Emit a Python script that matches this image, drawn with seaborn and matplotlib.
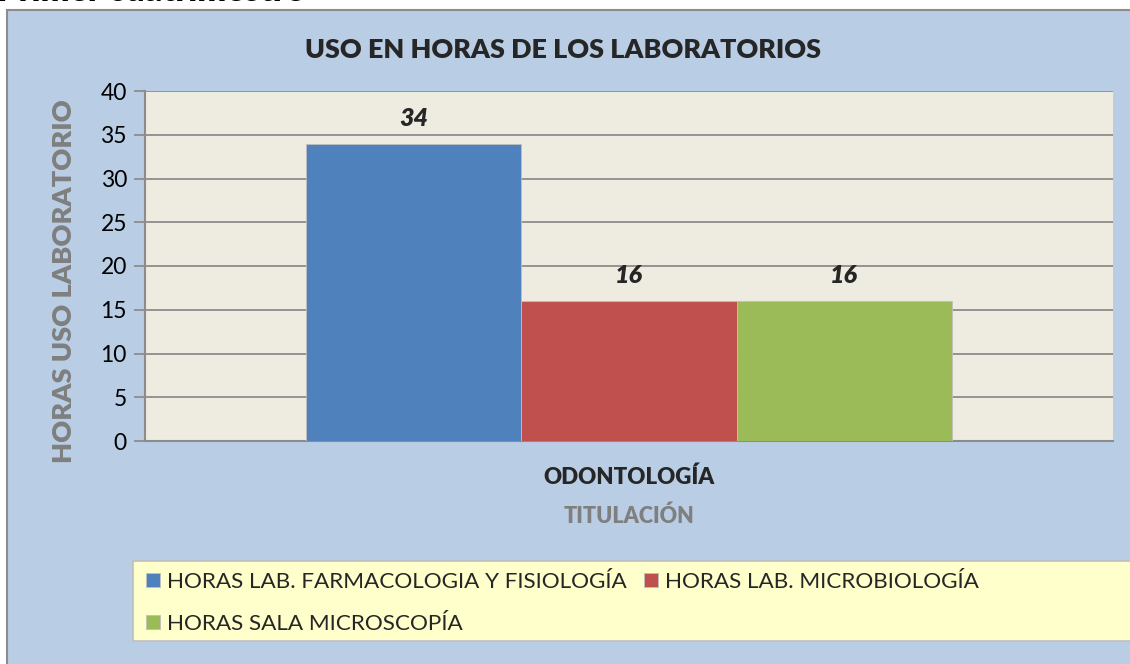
import numpy as np
import pandas as pd
import matplotlib
matplotlib.use("Agg")
import matplotlib.pyplot as plt
import seaborn as sns
from matplotlib.patches import Rectangle

# Datos del grafico (uso en horas de los laboratorios)
titulacion = ["ODONTOLOGÍA"]
series = ["HORAS LAB. FARMACOLOGIA Y FISIOLOGÍA", "HORAS LAB. MICROBIOLOGÍA", "HORAS SALA MICROSCOPÍA"]
horas = [34, 16, 16]
colores = ["#4F81BD", "#C0504D", "#9BBB59"]
yticks = [0, 5, 10, 15, 20, 25, 30, 35, 40]

df = pd.DataFrame({"titulacion": titulacion * len(series), "serie": series, "horas": horas})

sns.set_theme(style="white")
plt.rcParams["font.family"] = ["Lato", "DejaVu Sans"]
NEGRITA = "heavy"

W, H = 1130, 664
fig = plt.figure(figsize=(W / 100, H / 100), dpi=100)
fig.patch.set_facecolor("white")

# fondo azul del area del grafico
fig.add_artist(Rectangle((7 / W, -0.01), 1.0, 1 - 10 / H + 0.01, transform=fig.transFigure,
                         facecolor="#B9CDE5", edgecolor="#8C8C8C", lw=1.5, zorder=-10))
# titulo de la pagina (cortado arriba, como en el original)
fig.text(-3 / W, 1 - 1 / H, "Primer cuatrimestre", fontsize=24.5, fontweight=NEGRITA,
         va="baseline", ha="left", color="black")

ax = fig.add_axes([145 / W, 1 - 441 / H, (1113 - 145) / W, (441 - 91) / H])
sns.barplot(data=df, x="titulacion", y="horas", hue="serie", palette=colores, saturation=1,
            width=0.667, ax=ax, edgecolor="#BFBFBF", linewidth=0.6, legend=True, zorder=3)

ax.set_facecolor("#EEECE1")
ax.set_ylim(0, 40)
ax.set_xlim(-0.5, 0.5)
ax.set_yticks(yticks)
ax.grid(axis="y", color="#8C8C8C", lw=1.3, zorder=0)
ax.set_axisbelow(True)
for s in ["top", "right"]:
    ax.spines[s].set_visible(False)
for s in ["left", "bottom"]:
    ax.spines[s].set_color("#8C8C8C")
    ax.spines[s].set_linewidth(1.5)
ax.tick_params(axis="y", direction="out", length=8, width=1.3, color="#8C8C8C",
               labelsize=16.5, pad=5, left=True, labelcolor="black")
ax.set_xticks([-0.5, 0.5], minor=True)
ax.tick_params(axis="x", which="minor", direction="out", length=7, width=1.5, color="#8C8C8C")
ax.tick_params(axis="x", which="major", length=0, pad=18, labelsize=16)
for lab in ax.get_xticklabels():
    lab.set_fontweight(NEGRITA)

ax.set_xlabel("TITULACIÓN", fontsize=15.5, fontweight=NEGRITA, color="#7F7F7F", labelpad=13)
ax.set_ylabel("HORAS USO LABORATORIO", fontsize=19.6, fontweight=NEGRITA, color="#7F7F7F")
ax.yaxis.set_label_coords((76 - 145) / 968, (441 - 281) / 350)
fig.text(563 / W, 1 - 50 / H, "USO EN HORAS DE LOS LABORATORIOS", fontsize=19.4,
         fontweight=NEGRITA, ha="center", va="center")

for cont in ax.containers:
    ax.bar_label(cont, fmt="%d", padding=10, fontsize=18, fontweight=NEGRITA, style="italic")

handles, labels = ax.get_legend_handles_labels()
ax.get_legend().remove()

# caja de la leyenda
fig.add_artist(Rectangle((133 / W, 1 - 641 / H), 1.0, 80 / H, transform=fig.transFigure,
                         facecolor="#FFFFCC", edgecolor="#BFBFBF", lw=1.2, zorder=-5))
orden = [0, 2, 1]
fig.legend([handles[i] for i in orden], [labels[i] for i in orden], loc="upper left",
           bbox_to_anchor=(146 / W, 1 - 572 / H), frameon=False, ncol=2, fontsize=16.2,
           handlelength=0.62, handleheight=0.62, handletextpad=0.3, columnspacing=0.8,
           labelspacing=0.98, borderaxespad=0, borderpad=0)

fig.savefig("out.png", dpi=100)
